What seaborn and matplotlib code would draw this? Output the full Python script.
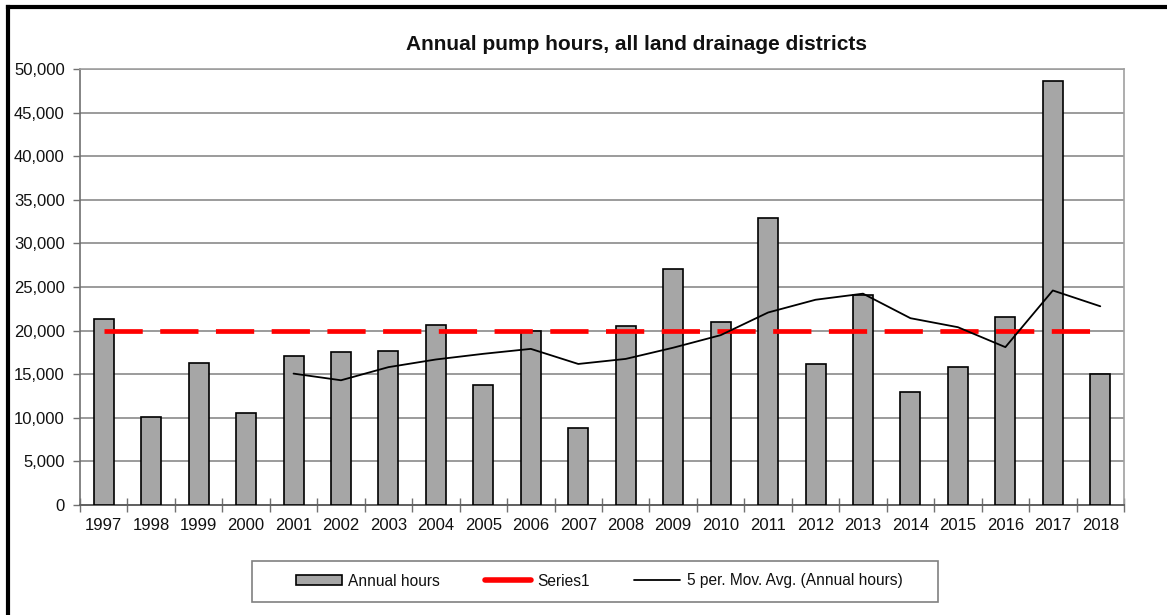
import numpy as np
import pandas as pd
import matplotlib
matplotlib.use("Agg")
import matplotlib.pyplot as plt
from matplotlib.patches import Patch, Rectangle
from matplotlib.lines import Line2D
from matplotlib.ticker import FuncFormatter, MultipleLocator, FixedLocator
import seaborn as sns

years = ["1997", "1998", "1999", "2000", "2001", "2002", "2003", "2004", "2005", "2006", "2007",
         "2008", "2009", "2010", "2011", "2012", "2013", "2014", "2015", "2016", "2017", "2018"]
annual_hours = [21330, 10130, 16250, 10510, 17120, 17510, 17660, 20640, 13760, 19950, 8860,
                20560, 27060, 20950, 32950, 16170, 24050, 12990, 15790, 21520, 48660, 14990]
series1 = [20000] * len(years)
title = "Annual pump hours, all land drainage districts"
legend_labels = ["Annual hours", "Series1", "5 per. Mov. Avg. (Annual hours)"]

df = pd.DataFrame({"year": years, "hours": annual_hours, "series1": series1})
df["mavg"] = df["hours"].rolling(5).mean()

sns.set_theme(style="white")
plt.rcParams["font.family"] = ["Liberation Sans", "DejaVu Sans"]

W, H = 1167, 615
fig = plt.figure(figsize=(W / 100, H / 100), dpi=100)
ax = fig.add_axes([80 / W, 1 - 505 / H, (1124 - 80) / W, (505 - 69) / H])

sns.barplot(data=df, x="year", y="hours", ax=ax, color="#a6a6a6", saturation=1,
            width=0.42, edgecolor="black", linewidth=1.2, zorder=3)
x = np.arange(len(years))
ax.plot(x, df["series1"], color="#ff0000", lw=3.4, dashes=(8.1, 3.7), zorder=4)
ax.plot(x, df["mavg"], color="black", lw=1.3, zorder=5)

ax.set_xlim(-0.5, len(years) - 0.5)
ax.set_ylim(0, 50000)
ax.yaxis.set_major_locator(MultipleLocator(5000))
ax.yaxis.set_major_formatter(FuncFormatter(lambda v, p: f"{int(v):,}"))
ax.grid(axis="y", color="#808080", lw=1.1, zorder=0)
ax.set_axisbelow(True)
ax.set_xlabel("")
ax.set_ylabel("")

ax.tick_params(axis="y", which="major", left=True, length=5, width=1, color="#707070",
               labelsize=12, labelcolor="#111111", pad=6)
ax.tick_params(axis="x", which="major", bottom=False, length=0, labelsize=12,
               labelcolor="#111111", pad=9)
ax.xaxis.set_minor_locator(FixedLocator(np.arange(-0.5, len(years), 1.0)))
ax.tick_params(axis="x", which="minor", bottom=True, direction="inout", length=10,
               width=1, color="#707070")

for side in ["top", "right"]:
    ax.spines[side].set_color("#a0a0a0")
    ax.spines[side].set_linewidth(1.2)
ax.spines["left"].set_color("#707070")
ax.spines["left"].set_linewidth(1.2)
ax.spines["bottom"].set_color("#606060")
ax.spines["bottom"].set_linewidth(1.4)

fig.text(637 / W, 1 - 44 / H, title, ha="center", va="center",
         fontsize=15, fontweight="bold", color="#111111")

handles = [
    Patch(facecolor="#a6a6a6", edgecolor="black", linewidth=1.2),
    Line2D([], [], color="#ff0000", lw=4),
    Line2D([], [], color="black", lw=1.3),
]
leg = fig.legend(handles, legend_labels, loc="center", bbox_to_anchor=(599 / W, 1 - 581 / H),
                 ncol=3, frameon=False, fontsize=11.2,
                 handlelength=2.95, handleheight=0.55, columnspacing=2.9, handletextpad=0.4,
                 borderpad=0, borderaxespad=0)
for t in leg.get_texts():
    t.set_color("#111111")

fig.add_artist(Rectangle((252 / W, 1 - 602 / H), (938 - 252) / W, (602 - 561) / H,
                         transform=fig.transFigure, fill=False, edgecolor="#808080", lw=1.2))

fig.add_artist(Line2D([8 / W, 8 / W], [-0.1, 1 - 7 / H], transform=fig.transFigure,
                      color="black", lw=3, solid_capstyle="projecting"))
fig.add_artist(Line2D([8 / W, 1.1], [1 - 7 / H, 1 - 7 / H], transform=fig.transFigure,
                      color="black", lw=3, solid_capstyle="projecting"))

fig.savefig("out.png", dpi=100, facecolor="white")
